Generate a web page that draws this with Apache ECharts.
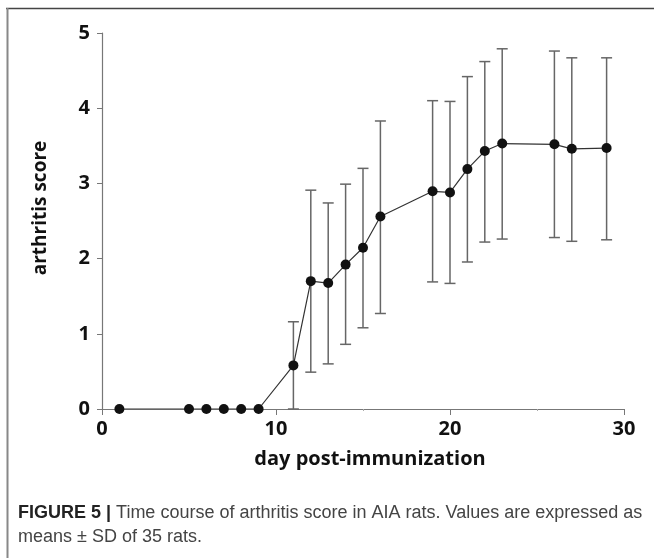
<!DOCTYPE html>
<html>
<head>
<meta charset="utf-8">
<script src="https://cdn.jsdelivr.net/npm/echarts@6/dist/echarts.min.js"></script>
<style>
html,body{margin:0;padding:0;background:#fff;}
#chart{width:654px;height:558px;}
</style>
</head>
<body>
<div id="chart"></div>
<script>
// Data
var days = [1, 5, 6, 7, 8, 9, 11, 12, 13, 14, 15, 16, 19, 20, 21, 22, 23, 26, 27, 29];
var meanScore = [0, 0, 0, 0, 0, 0, 0.58, 1.70, 1.675, 1.92, 2.145, 2.56, 2.895, 2.88, 3.19, 3.43, 3.53, 3.52, 3.46, 3.47];
var sdUpper = [null, null, null, null, null, null, 1.16, 2.91, 2.74, 2.99, 3.20, 3.83, 4.10, 4.09, 4.42, 4.62, 4.79, 4.76, 4.67, 4.67];
var sdLower = [null, null, null, null, null, null, 0, 0.49, 0.60, 0.86, 1.08, 1.27, 1.69, 1.67, 1.955, 2.22, 2.26, 2.28, 2.23, 2.25];
var xTicks = [0, 10, 20, 30];
var yTicks = [0, 1, 2, 3, 4, 5];

var lineData = days.map(function (d, i) { return [d, meanScore[i]]; });
var errData = [];
days.forEach(function (d, i) {
  if (sdUpper[i] !== null) errData.push([d, sdLower[i], sdUpper[i]]);
});

var axisFont = '"Open Sans", Lato, sans-serif';
var chart = echarts.init(document.getElementById('chart'));
chart.setOption({
  animation: false,
  grid: { left: 102, right: 30, top: 33, bottom: 149 },
  xAxis: {
    type: 'value', min: xTicks[0], max: xTicks[xTicks.length - 1], interval: 10,
    name: 'day post-immunization', nameLocation: 'middle', nameGap: 40,
    nameTextStyle: { fontFamily: axisFont, fontWeight: 'bold', fontSize: 20, color: '#111', padding: [0, 0, 0, 14] },
    axisLine: { lineStyle: { color: '#777', width: 1.2 } },
    axisTick: { show: true, length: 6, lineStyle: { color: '#777' } },
    minorTick: { show: true, splitNumber: 2, length: 2, lineStyle: { color: '#aaa' } },
    axisLabel: { fontFamily: axisFont, fontWeight: 'bold', fontSize: 20, color: '#111', margin: 10 },
    splitLine: { show: false }
  },
  yAxis: {
    type: 'value', min: yTicks[0], max: yTicks[yTicks.length - 1], interval: 1,
    name: 'arthritis score', nameLocation: 'middle', nameGap: 52,
    nameTextStyle: { fontFamily: axisFont, fontWeight: 'bold', fontSize: 19, color: '#111', padding: [0, 0, 0, 26] },
    axisLine: { show: true, lineStyle: { color: '#777', width: 1.2 } },
    axisTick: { show: true, length: 5, lineStyle: { color: '#777' } },
    axisLabel: { fontFamily: axisFont, fontWeight: 'bold', fontSize: 20, color: '#111', margin: 12 },
    splitLine: { show: false }
  },
  series: [
    {
      type: 'custom',
      data: errData,
      z: 1,
      renderItem: function (params, api) {
        var x = api.value(0);
        var lo = api.coord([x, api.value(1)]);
        var hi = api.coord([x, api.value(2)]);
        var hw = 5.5;
        var st = { stroke: '#666', lineWidth: 1.5 };
        return {
          type: 'group',
          children: [
            { type: 'line', shape: { x1: lo[0], y1: lo[1], x2: hi[0], y2: hi[1] }, style: st },
            { type: 'line', shape: { x1: hi[0] - hw, y1: hi[1], x2: hi[0] + hw, y2: hi[1] }, style: st },
            { type: 'line', shape: { x1: lo[0] - hw, y1: lo[1], x2: lo[0] + hw, y2: lo[1] }, style: st }
          ]
        };
      }
    },
    {
      type: 'line',
      data: lineData,
      z: 3,
      symbol: 'circle',
      symbolSize: 10,
      itemStyle: { color: '#111', borderWidth: 0 },
      lineStyle: { color: '#333', width: 1.2 }
    }
  ],
  graphic: [
    { type: 'line', shape: { x1: 6, y1: 8.5, x2: 654, y2: 8.5 }, style: { stroke: '#444', lineWidth: 1.5 } },
    { type: 'line', shape: { x1: 7.5, y1: 8, x2: 7.5, y2: 558 }, style: { stroke: '#888', lineWidth: 2 } },
    {
      type: 'text', left: 18, top: 501,
      style: {
        text: '{b|FIGURE 5 |} Time course of arthritis score in AIA rats. Values are expressed as\nmeans \u00b1 SD of 35 rats.',
        fontFamily: '"Liberation Sans", Arial, sans-serif',
        fontSize: 18, lineHeight: 24, fill: '#444',
        rich: {
          b: { fontFamily: '"Liberation Sans", Arial, sans-serif', fontWeight: 'bold', fontSize: 18, lineHeight: 24, fill: '#222' }
        }
      }
    }
  ]
});
</script>
</body>
</html>
